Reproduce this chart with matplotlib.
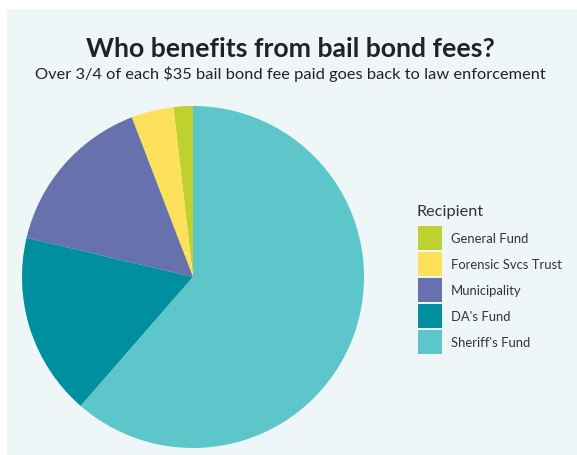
import matplotlib
matplotlib.use("Agg")
import matplotlib.pyplot as plt
from matplotlib.patches import Rectangle

categories = ["General Fund", "Forensic Svcs Trust", "Municipality", "DA's Fund", "Sheriff's Fund"]
values = [0.64, 1.40, 5.42, 6.05, 21.49]
colors = ["#BFD12F", "#FDE15B", "#6771AE", "#008F9F", "#5CC6CA"]

W, H = 577, 456
fig = plt.figure(figsize=(W / 100, H / 100), dpi=100, facecolor="white")
bg = "#EEF6F8"
fig.patches.append(Rectangle((7 / W, 0), 1, 1 - 10 / H, transform=fig.transFigure,
                             facecolor=bg, edgecolor="none", zorder=-10))

cx, cy, r = 193, 278, 171
ax = fig.add_axes([(cx - r) / W, (H - cy - r) / H, 2 * r / W, 2 * r / H], zorder=5)
ax.set_facecolor("none")
wedges, _ = ax.pie(values, colors=colors, startangle=90, counterclock=True,
                   wedgeprops=dict(linewidth=0))
ax.set_xlim(-1, 1)
ax.set_ylim(-1, 1)
ax.set_aspect("equal")
ax.axis("off")

fig.text(0.503, 1 - 49 / H, "Who benefits from bail bond fees?", ha="center", va="center",
         fontsize=19.2, fontweight="bold", family="Lato", color="#222222")
fig.text(0.503, 1 - 74 / H, "Over 3/4 of each $35 bail bond fee paid goes back to law enforcement",
         ha="center", va="center", fontsize=11.8, family="Lato", color="#222222")

fig.text(417 / W, 1 - 216 / H, "Recipient", ha="left", va="baseline",
         fontsize=11.7, family="Lato", color="#333333")
leg = fig.legend(wedges, categories, loc="upper left",
                 bbox_to_anchor=(418 / W, 1 - 227 / H), frameon=False,
                 prop=dict(family="Lato", size=9.35),
                 handlelength=1.85, handleheight=2.46, labelspacing=0.15, handletextpad=0.69,
                 borderpad=0, borderaxespad=0)
for t in leg.get_texts():
    t.set_color("#333333")

fig.savefig("out.png", dpi=100, facecolor="white")
